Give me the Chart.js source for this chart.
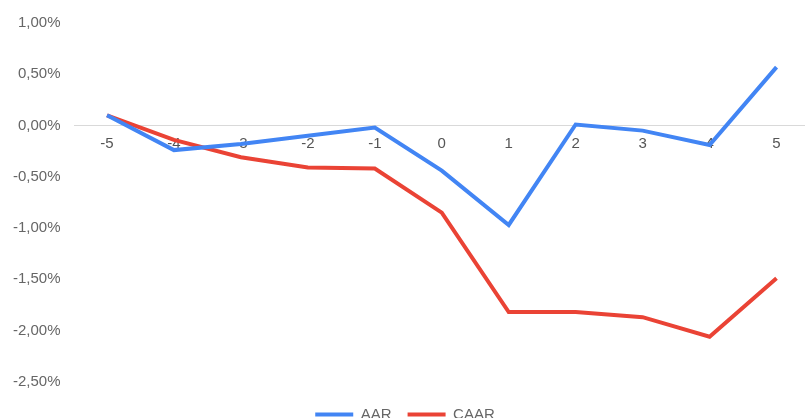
<!DOCTYPE html>
<html>
<head>
<meta charset="utf-8">
<title>AAR / CAAR</title>
<script src="https://cdn.jsdelivr.net/npm/chart.js@4.4.1/dist/chart.umd.min.js"></script>
<style>
  html, body { margin: 0; padding: 0; background: #fff; overflow: hidden; }
  #wrap { width: 805px; height: 418px; overflow: hidden; }
  #box { width: 830px; height: 418px; }
</style>
</head>
<body>
<div id="wrap"><div id="box"><canvas id="chart"></canvas></div></div>
<script>
// event window days
var days = ["-5", "-4", "-3", "-2", "-1", "0", "1", "2", "3", "4", "5"];
// average abnormal return, %
var aar = [0.10, -0.24, -0.18, -0.10, -0.02, -0.44, -0.97, 0.01, -0.05, -0.19, 0.57];
// cumulative average abnormal return, %
var caar = [0.10, -0.14, -0.31, -0.41, -0.42, -0.85, -1.82, -1.82, -1.87, -2.06, -1.49];
// y axis tick values, %
var yTicks = [-2.5, -2.0, -1.5, -1.0, -0.5, 0, 0.5, 1.0];

function pct(v) {
  return v.toFixed(2).replace(".", ",") + "%";
}

Chart.defaults.font.family = "'Liberation Sans', Arial, sans-serif";
Chart.defaults.font.size = 15;
Chart.defaults.color = "#666";

new Chart("chart", {
  type: "line",
  data: {
    labels: days,
    datasets: [{
      label: "AAR",
      data: aar,
      borderColor: "#4285f4",
      backgroundColor: "#4285f4",
      borderWidth: 4,
      pointRadius: 0,
      tension: 0,
      fill: false
    }, {
      label: "CAAR",
      data: caar,
      borderColor: "#ea4335",
      backgroundColor: "#ea4335",
      borderWidth: 4,
      pointRadius: 0,
      tension: 0,
      fill: false
    }]
  },
  options: {
    responsive: true,
    maintainAspectRatio: false,
    animation: false,
    layout: { padding: { top: 23, right: 20, bottom: -14, left: 0 } },
    plugins: {
      legend: {
        position: "bottom",
        labels: {
          boxWidth: 38,
          boxHeight: 4,
          padding: 16,
          color: "#666",
          generateLabels: function (chart) {
            // flat line swatches, no border
            return Chart.defaults.plugins.legend.labels.generateLabels(chart).map(function (it) {
              it.lineWidth = 0;
              return it;
            });
          }
        }
      },
      tooltip: { enabled: false }
    },
    scales: {
      x: {
        offset: true,
        position: { y: 0 },
        grid: { display: false },
        border: { display: false },
        ticks: { color: "#555", padding: 1 }
      },
      y: {
        min: -2.59,
        max: 1.0,
        border: { display: false },
        afterBuildTicks: function (axis) {
          axis.ticks = yTicks.map(function (v) { return { value: v }; });
        },
        grid: {
          color: function (ctx) { return ctx.tick && ctx.tick.value === 0 ? "#d9d9d9" : "rgba(0,0,0,0)"; },
          drawTicks: false
        },
        ticks: {
          padding: 13,
          color: "#666",
          callback: function (v) { return pct(v); }
        }
      }
    }
  }
});
</script>
</body>
</html>
